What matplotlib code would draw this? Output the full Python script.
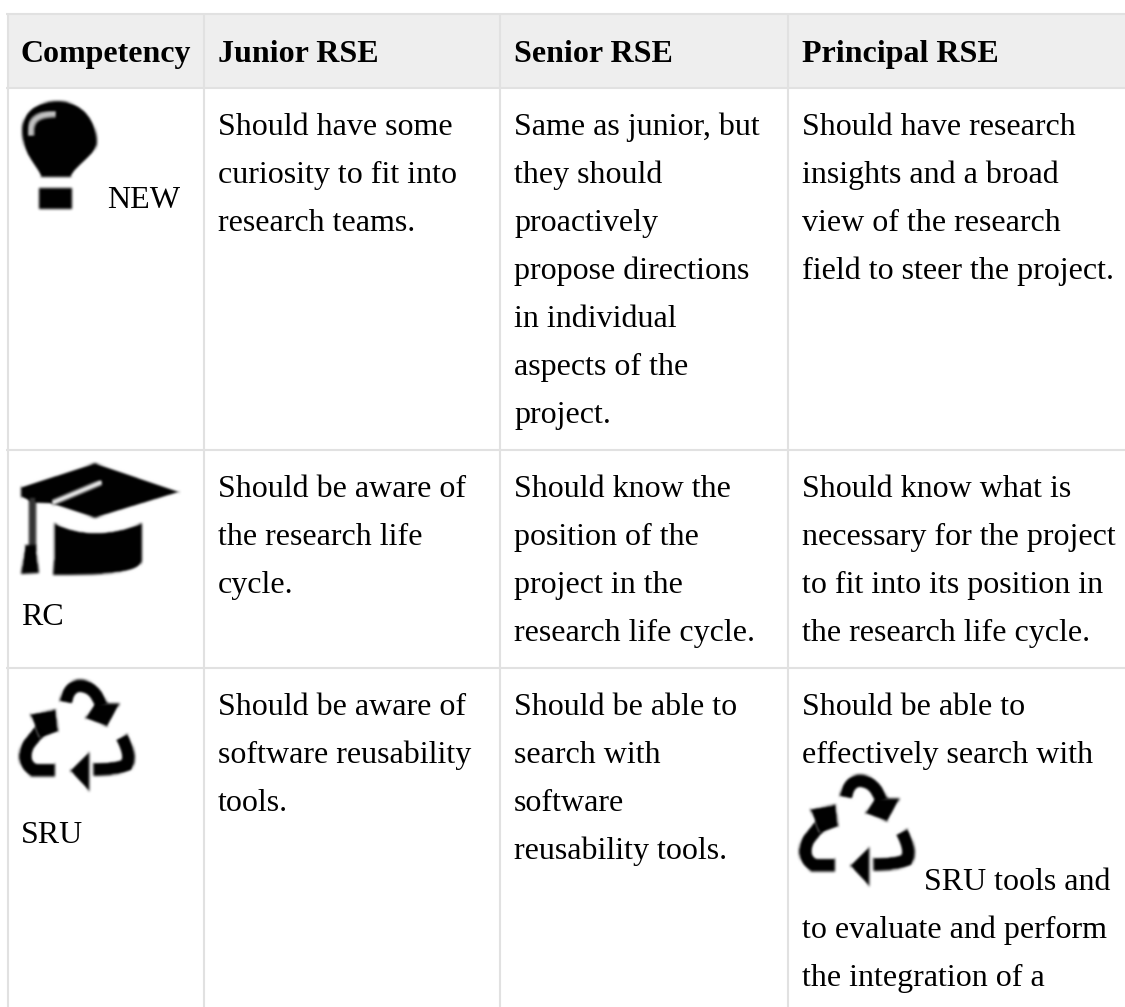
import numpy as np
import matplotlib
matplotlib.use('Agg')
import matplotlib.pyplot as plt
from matplotlib.patches import Rectangle, PathPatch, Polygon
from matplotlib.path import Path

W, H = 1125, 1007
headers = ["Competency", "Junior RSE", "Senior RSE", "Principal RSE"]
row_new_labels = ["NEW"]
junior = [["Should have some", "curiosity to fit into", "research teams."],
          ["Should be aware of", "the research life", "cycle."],
          ["Should be aware of", "software reusability", "tools."]]
senior = [["Same as junior, but", "they should", "proactively", "propose directions", "in individual", "aspects of the", "project."],
          ["Should know the", "position of the", "project in the", "research life cycle."],
          ["Should be able to", "search with", "software", "reusability tools."]]
principal = [["Should have research", "insights and a broad", "view of the research", "field to steer the project."],
             ["Should know what is", "necessary for the project", "to fit into its position in", "the research life cycle."],
             ["Should be able to", "effectively search with"]]
principal_tail = ["to evaluate and perform", "the integration of a"]

col_lines = [7.5, 204, 500, 787.5]
col_text = [21, 218, 514, 802]
row_lines = [14, 87.5, 449.5, 667.5]
row_first_base = [135, 497, 715]
LINE = 48
GRID = '#e1e1e1'

fig = plt.figure(figsize=(W/100, H/100), dpi=100)
ax = fig.add_axes([0, 0, 1, 1])
ax.set_xlim(0, W); ax.set_ylim(H, 0); ax.axis('off')
plt.rcParams['font.family'] = ['Liberation Serif']

ax.add_patch(Rectangle((col_lines[0], row_lines[0]), W-col_lines[0], row_lines[1]-row_lines[0], fc='#eeeeee', ec='none'))
for y in row_lines:
    ax.plot([col_lines[0]-1.5, W], [y, y], color=GRID, lw=1.5, solid_capstyle='butt')
for x in col_lines:
    ax.plot([x, x], [row_lines[0], H], color=GRID, lw=1.5, solid_capstyle='butt')

FS = 23
def T(x, y, s, **k):
    ax.text(x, y, s, fontsize=FS, color='black', va='baseline', ha='left', family='Liberation Serif', **k)

for x, s in zip(col_text, headers):
    T(x, 62, s, fontweight='bold')
for col, x in zip([junior, senior, principal], col_text[1:]):
    for r, lines in enumerate(col):
        for i, s in enumerate(lines):
            T(x, row_first_base[r] + i*LINE, s)
T(107, 208, row_new_labels[0])
T(21, 625, "RC")
T(21, 843, "SRU")
T(924, 890, "SRU tools and")
for i, s in enumerate(principal_tail):
    T(802, 938 + i*LINE, s)

PAD = 6
def blur(img, dpi):
    a = np.pad(img, [(PAD, PAD), (PAD, PAD), (0, 0)], mode='constant')
    k = np.array([1, 4, 8, 10, 8, 4, 1], float); k /= k.sum()
    for ch in range(4):
        c = a[:, :, ch]
        c = np.apply_along_axis(lambda m: np.convolve(m, k, mode='same'), 0, c)
        c = np.apply_along_axis(lambda m: np.convolve(m, k, mode='same'), 1, c)
        a[:, :, ch] = c
    return a, -PAD, -PAD

def add(p):
    p.set_agg_filter(blur)
    ax.add_artist(p)

M, L, C3, C4 = Path.MOVETO, Path.LINETO, Path.CURVE3, Path.CURVE4

def bulb():
    v = [(58, 101), (82, 101), (97, 120), (97, 142), (97, 156), (75, 165), (71, 177), (41, 177),
         (37, 165), (22, 156), (22, 130), (22, 112), (36, 101), (58, 101)]
    c = [M, C4, C4, C4, C4, C4, C4, L, C4, C4, C4, C4, C4, C4]
    add(PathPatch(Path(v, c), fc='black', ec='none'))
    add(Rectangle((39, 188), 33, 21, fc='black', ec='none'))
    hv = [(31, 136), (29, 119), (38, 114), (56, 114)]
    add(PathPatch(Path(hv, [M, C4, C4, C4]), fc='none', ec='#c4c4c4', lw=4.5))

def cap():
    add(Polygon([(21, 487), (95, 463), (180, 492), (95, 518), (52, 504), (34, 503), (21, 497)], fc='black', ec='none'))
    add(PathPatch(Path([(52, 503), (102, 482)]), fc='none', ec='#f0f0f0', lw=3.5))
    v = [(54, 523), (80, 536), (110, 536), (142, 523), (142, 560), (142, 575), (95, 575), (53, 575), (54, 560), (54, 523)]
    c = [M, C4, C4, C4, L, C4, C4, C4, L, L]
    add(PathPatch(Path(v, c), fc='black', ec='none'))
    add(Rectangle((29, 497), 7, 55, fc='#333333', ec='none'))
    add(Polygon([(25, 545), (36, 545), (39, 573), (21, 574)], fc='black', ec='none'))

def recycle(ox, oy):
    f = lambda pts: [(ox + x/3, oy + y/3) for x, y in pts]
    add(PathPatch(Path(f([(198, 68), (205, 18), (240, 18), (285, 18), (305, 80)]), [M, C3, C3, C3, C3]), fc='none', ec='black', lw=9.5))
    add(Polygon(f([(360, 70), (322, 140), (255, 115), (285, 70)]), fc='black', ec='none'))
    add(PathPatch(Path(f([(365, 170), (395, 225), (380, 255), (350, 268), (280, 268)]), [M, C3, C3, C3, C3]), fc='none', ec='black', lw=9.5))
    add(Polygon(f([(268, 215), (268, 335), (210, 272)]), fc='black', ec='none'))
    add(PathPatch(Path(f([(165, 270), (100, 270), (62, 245), (85, 195), (125, 145)]), [M, L, C3, C3, L]), fc='none', ec='black', lw=9.5))
    add(Polygon(f([(90, 102), (168, 88), (175, 155), (120, 175)]), fc='black', ec='none'))

bulb()
cap()
recycle(0, 680)
recycle(780, 775)

fig.savefig('out.png', dpi=100, facecolor='white')
